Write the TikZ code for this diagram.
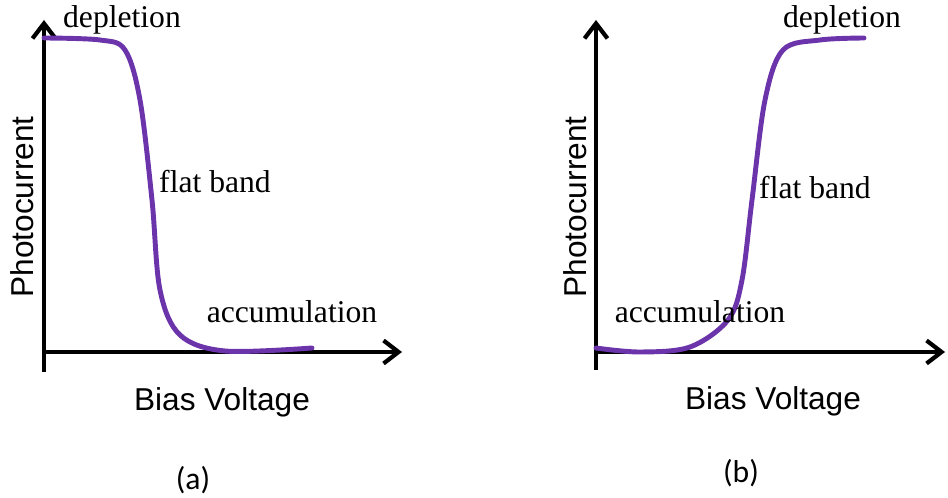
\documentclass[tikz,border=0pt]{standalone}
\usepackage{fontspec}
\setmainfont{Liberation Serif}
\newfontfamily\axisfont{Liberation Sans}
\newfontfamily\capfont{Carlito}
\usepackage{tikz}
\usetikzlibrary{arrows.meta,positioning}
\definecolor{curvepurple}{RGB}{108,52,170}

\begin{document}
\begin{tikzpicture}[>={Straight Barb[length=0.3cm,width=0.46cm]},x=1.0cm,y=1.0cm,
  axis/.style={line width=2.4pt,->},
  curve/.style={curvepurple,line width=2.8pt,line cap=round},
  lbl/.style={font=\fontsize{18}{20}\selectfont,inner sep=0pt},
  axlbl/.style={font=\axisfont\fontsize{18}{20}\selectfont,inner sep=0pt},
  caplbl/.style={font=\capfont\fontsize{18}{20}\selectfont,inner sep=0pt}]
\useasboundingbox (0,0) rectangle (18.96,9.96);
% (a)
\coordinate (oa) at (0.88,2.92);
\draw[axis] (0.88,2.52) -- (0.88,9.56);
\draw[axis] (oa) -- (8.04,2.92);
\draw[curve] plot[smooth,tension=0.55] coordinates {(0.88,9.2) (2.0,9.16) (2.5,8.96) (2.8,7.96) (3.04,5.96) (3.2,4.16) (3.6,3.26) (4.5,2.94) (6.24,3.0)};
\node[lbl] (depa) at (2.44,9.56) {depletion};
\node[lbl] (flata) at (4.3,6.32) {flat band};
\node[lbl] (acca) at (5.84,3.72) {accumulation};
\node[axlbl,rotate=90] (ya) at (0.44,5.82) {Photocurrent};
\node[axlbl] (xa) at (4.44,1.92) {Bias Voltage};
\node[caplbl] (capa) at (3.86,0.36) {(a)};
% (b)
\coordinate (ob) at (11.92,2.92);
\draw[axis] (11.92,2.56) -- (11.92,9.56);
\draw[axis] (ob) -- (18.9,2.92);
\draw[curve] plot[smooth,tension=0.55] coordinates {(11.92,3.0) (12.8,2.92) (13.8,3.02) (14.56,3.56) (14.84,4.36) (15.04,5.96) (15.3,7.96) (15.66,8.96) (16.4,9.16) (17.28,9.2)};
\node[lbl] (depb) at (16.84,9.56) {depletion};
\node[lbl] (flatb) at (16.3,6.2) {flat band};
\node[lbl] (accb) at (14.0,3.72) {accumulation};
\node[axlbl,rotate=90] (yb) at (11.5,5.82) {Photocurrent};
\node[axlbl] (xb) at (15.46,1.94) {Bias Voltage};
\node[caplbl] (capb) at (14.82,0.5) {(b)};
\end{tikzpicture}
\end{document}
